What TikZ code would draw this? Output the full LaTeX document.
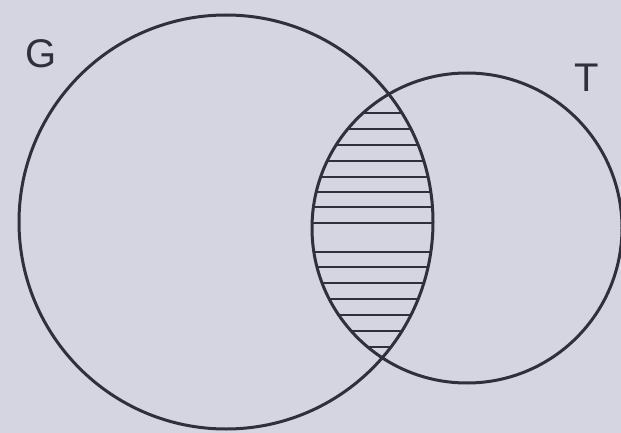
\documentclass[tikz,border=0pt]{standalone}
\usepackage{fontspec}
\setmainfont{Liberation Sans}
\usepackage{tikz}
\usetikzlibrary{positioning}
\definecolor{paper}{RGB}{212,213,224}
\definecolor{ink}{RGB}{48,48,58}
\tikzset{
    % Set circles
    setcircle/.style={draw=ink, line width=3pt},
    hatchline/.style={draw=ink, line width=2.4pt},
    setlabel/.style={font=\fontsize{40}{44}\selectfont, text=ink, inner sep=0pt},
}

\begin{document}
\begin{tikzpicture}[x=1pt, y=-1pt]
\useasboundingbox[fill=paper] (0,0) rectangle (621,433);

\coordinate (gc) at (226,222);
\coordinate (tc) at (467,228);

\begin{scope}
  \clip (gc) circle[radius=207];
  \clip (tc) circle[radius=155];
  \foreach \y in {113,129,145,161,177,192,207,223,252,267,283,299,315,331,347}
    \draw[hatchline] (300,\y) -- (460,\y);
\end{scope}

\draw[setcircle] (gc) circle[radius=207];
\draw[setcircle] (tc) circle[radius=155];

\node[setlabel] (glbl) at (41,54) {G};
\node[setlabel] (tlbl) at (587,78) {T};
\end{tikzpicture}
\end{document}
